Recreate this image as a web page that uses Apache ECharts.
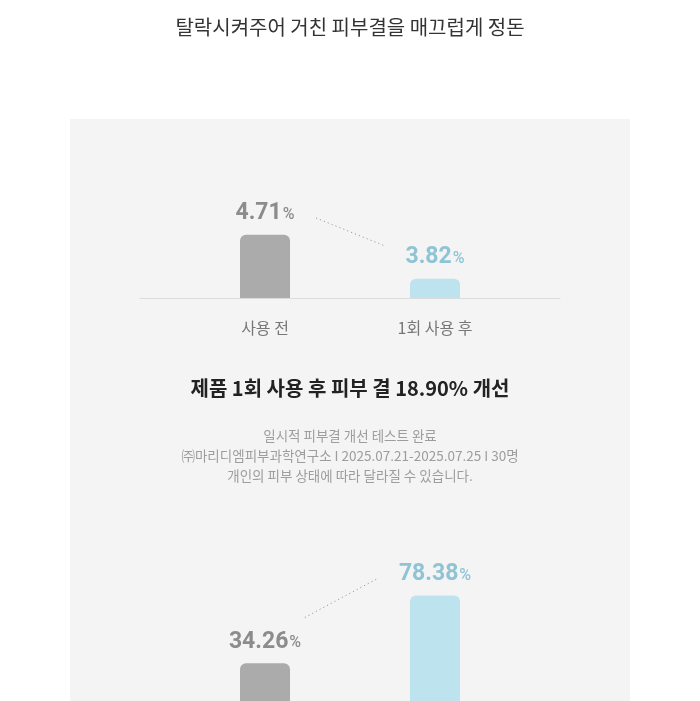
<!DOCTYPE html>
<html>
<head>
<meta charset="utf-8">
<script src="https://cdn.jsdelivr.net/npm/echarts@6/dist/echarts.min.js"></script>
<style>
  html, body { margin: 0; padding: 0; background: #fff; }
  #chart { width: 700px; height: 701px; }
</style>
</head>
<body>
<div id="chart"></div>
<script>
const titleText = '탈락시켜주어 거친 피부결을 매끄럽게 정돈';
const categories = ['사용 전', '1회 사용 후'];
const textureValues = [4.71, 3.82];
const moistureValues = [34.26, 78.38];
const headline = '제품 1회 사용 후 피부 결 18.90% 개선';
const noteLines = [
  '일시적 피부결 개선 테스트 완료',
  '㈜마리디엠피부과학연구소 I 2025.07.21-2025.07.25 I 30명',
  '개인의 피부 상태에 따라 달라질 수 있습니다.'
];

const font = '"Noto Sans CJK KR", "Noto Sans", sans-serif';
const numFont = 'Roboto, "Noto Sans", sans-serif';
const grayBar = '#ababab';
const blueBar = '#bde3ef';
const grayText = '#8c8c8c';
const blueText = '#8ec4d4';

// dotted connector between the two values, trimmed at both ends
function dotLine(t0, d0, t1, d1) {
  return function (params, api) {
    const a = api.coord([api.value(0), api.value(1)]);
    const b = api.coord([api.value(2), api.value(3)]);
    return {
      type: 'line',
      shape: {
        x1: a[0] + t0 * (b[0] - a[0]), y1: a[1] + t0 * (b[1] - a[1]) + d0,
        x2: a[0] + t1 * (b[0] - a[0]), y2: a[1] + t1 * (b[1] - a[1]) + d1
      },
      style: { stroke: '#9a9a9a', lineWidth: 1, lineDash: [1.2, 3] }
    };
  };
}

function barData(values) {
  return values.map((v, i) => ({
    value: v,
    itemStyle: { color: i === 0 ? grayBar : blueBar },
    label: { rich: { v: { color: i === 0 ? grayText : blueText }, p: { color: i === 0 ? grayText : blueText } } }
  }));
}

const valueLabel = {
  show: true,
  position: 'top',
  distance: 10,
  formatter: p => '{v|' + p.value.toFixed(2) + '}{p|%}',
  rich: {
    v: { fontFamily: numFont, fontSize: 23, fontWeight: 'bold' },
    p: { fontFamily: numFont, fontSize: 16, fontWeight: 500, padding: [3, 0, 0, 1] }
  }
};

const chart = echarts.init(document.getElementById('chart'));
chart.setOption({
  backgroundColor: '#ffffff',
  animation: false,
  graphic: [{
    type: 'rect', z: -10, silent: true,
    shape: { x: 70, y: 119, width: 560, height: 600 },
    style: { fill: '#f4f4f4' }
  }],
  title: [
    { text: titleText, left: 'center', top: 12,
      textStyle: { fontFamily: font, fontSize: 20, fontWeight: 'normal', color: '#333' } },
    { text: headline, left: 'center', top: 373,
      textStyle: { fontFamily: font, fontSize: 20, fontWeight: 'bold', color: '#222' } },
    { text: noteLines.join('\n'), left: 'center', top: 421,
      textStyle: { fontFamily: font, fontSize: 13.5, fontWeight: 'normal', color: '#9d9d9d', lineHeight: 20, align: 'center' } }
  ],
  grid: [
    { left: 180, width: 340, top: 140, height: 158, outerBoundsMode: 'none' },
    { left: 140, width: 420, top: 140, height: 158, outerBoundsMode: 'none' },
    { left: 180, width: 340, top: 520, height: 196, outerBoundsMode: 'none' }
  ],
  xAxis: [
    { gridIndex: 0, type: 'category', data: categories,
      axisLine: { show: false }, axisTick: { show: false },
      axisLabel: { margin: 22, fontFamily: font, fontSize: 16, color: '#777' } },
    { gridIndex: 1, type: 'value', min: 0, max: 1,
      axisLine: { show: true, lineStyle: { color: '#dcdcdc', width: 1 } },
      axisTick: { show: false }, axisLabel: { show: false }, splitLine: { show: false } },
    { gridIndex: 2, type: 'category', data: categories,
      axisLine: { show: false }, axisTick: { show: false },
      axisLabel: { margin: 22, fontFamily: font, fontSize: 16, color: '#777' } }
  ],
  yAxis: [
    { gridIndex: 0, type: 'value', min: 3.43, max: 6.63, show: false },
    { gridIndex: 1, type: 'value', min: 0, max: 1, show: false },
    { gridIndex: 2, type: 'value', min: 0, max: 127.5, show: false }
  ],
  series: [
    { type: 'bar', xAxisIndex: 0, yAxisIndex: 0, barWidth: 50,
      itemStyle: { borderRadius: [6, 6, 0, 0] },
      label: valueLabel, data: barData(textureValues) },
    { type: 'custom', xAxisIndex: 0, yAxisIndex: 0,
      renderItem: dotLine(0.3, -30, 0.7, -20),
      data: [[0, textureValues[0], 1, textureValues[1]]] },
    { type: 'bar', xAxisIndex: 2, yAxisIndex: 2, barWidth: 50,
      itemStyle: { borderRadius: [6, 6, 0, 0] },
      label: valueLabel, data: barData(moistureValues) },
    { type: 'custom', xAxisIndex: 2, yAxisIndex: 2,
      renderItem: dotLine(0.234, -30, 0.667, -40),
      data: [[0, moistureValues[0], 1, moistureValues[1]]] }
  ]
});
</script>
</body>
</html>
